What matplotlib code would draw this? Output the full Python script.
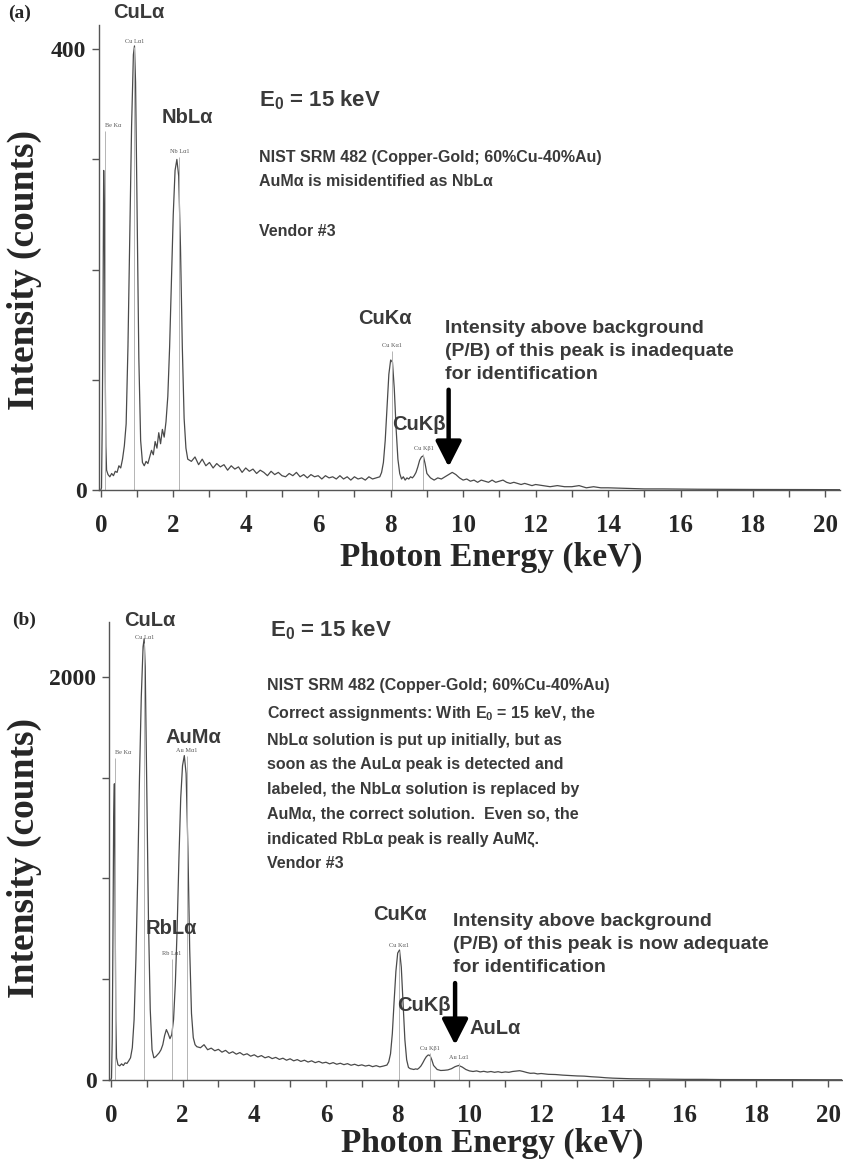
import matplotlib.pyplot as plt

# fontes: serif negrito para eixos, sans negrito para anotacoes
plt.rcParams['font.family'] = 'Liberation Serif'
plt.rcParams['font.weight'] = 'bold'
plt.rcParams['mathtext.fontset'] = 'custom'
plt.rcParams['mathtext.rm'] = 'Liberation Sans:bold'
plt.rcParams['mathtext.it'] = 'Liberation Sans:bold'
plt.rcParams['mathtext.bf'] = 'Liberation Sans:bold'

SANS = 'Liberation Sans'
INK = '#3a3a3a'
LINE = '#4a4a4a'

# energia dos canais (keV), comum aos dois espectros
energy_kev = [
    0.00, 0.02, 0.04, 0.06, 0.08, 0.10, 0.12, 0.14, 0.16, 0.20,
    0.25, 0.30, 0.35, 0.40, 0.45, 0.50, 0.55, 0.60, 0.65, 0.70,
    0.75, 0.80, 0.85, 0.90, 0.93, 0.96, 1.00, 1.05, 1.10, 1.15,
    1.20, 1.25, 1.30, 1.35, 1.40, 1.45, 1.50, 1.55, 1.60, 1.65,
    1.70, 1.75, 1.80, 1.85, 1.90, 1.95, 2.00, 2.05, 2.10, 2.15,
    2.20, 2.25, 2.30, 2.35, 2.40,
    2.5, 2.6, 2.7, 2.8, 2.9, 3.0, 3.1, 3.2, 3.3, 3.4,
    3.5, 3.6, 3.7, 3.8, 3.9, 4.0, 4.1, 4.2, 4.3, 4.4,
    4.5, 4.6, 4.7, 4.8, 4.9, 5.0, 5.1, 5.2, 5.3, 5.4,
    5.5, 5.6, 5.7, 5.8, 5.9, 6.0, 6.1, 6.2, 6.3, 6.4,
    6.5, 6.6, 6.7, 6.8, 6.9, 7.0, 7.1, 7.2, 7.3, 7.4,
    7.5, 7.6, 7.7,
    7.75, 7.80, 7.85, 7.90, 7.95, 8.00, 8.05, 8.10, 8.15, 8.20,
    8.25, 8.30, 8.35, 8.40, 8.45, 8.50, 8.55, 8.60, 8.65, 8.70,
    8.75, 8.80, 8.85, 8.90, 8.95, 9.00,
    9.1, 9.2, 9.3, 9.4, 9.5, 9.6, 9.7, 9.8, 9.9, 10.0,
    10.1, 10.2, 10.3, 10.4, 10.5, 10.6, 10.7, 10.8, 10.9, 11.0,
    11.1, 11.2, 11.3, 11.4, 11.5, 11.6, 11.7, 11.8, 11.9, 12.0,
    12.2, 12.4, 12.6, 12.8, 13.0, 13.2, 13.4, 13.6, 13.8, 14.0,
    14.5, 15.0, 15.5, 16.0, 16.5, 17.0, 17.5, 18.0, 18.5, 19.0,
    19.5, 20.0, 20.4,
]

# (a) espectro com AuMa identificado como NbLa
counts_a = [
    0, 2, 60, 150, 290, 250, 120, 40, 18, 14,
    12, 15, 13, 17, 16, 22, 20, 28, 40, 60,
    130, 230, 330, 395, 403, 370, 260, 120, 45, 25,
    22, 26, 24, 30, 36, 32, 44, 38, 52, 42,
    55, 48, 62, 85, 130, 190, 250, 290, 300, 285,
    220, 130, 65, 38, 28,
    26, 30, 23, 28, 22, 25, 20, 24, 21, 23,
    18, 22, 19, 21, 16, 20, 17, 19, 15, 18,
    16, 13, 17, 14, 16, 13, 12, 15, 13, 16,
    12, 14, 11, 14, 12, 13, 10, 13, 11, 12,
    10, 13, 10, 12, 9, 12, 10, 11, 9, 12,
    10, 11, 12,
    16, 25, 45, 75, 105, 118, 116, 92, 56, 28,
    15, 10, 12, 9, 11, 10, 12, 11, 13, 16,
    21, 27, 30, 31, 24, 15,
    11, 9, 11, 10, 12, 14, 16, 14, 11, 9,
    10, 8, 9, 7, 9, 8, 7, 9, 7, 8,
    9, 7, 6, 7, 6, 5, 6, 5, 4, 5,
    4, 3, 4, 3, 3, 4, 2, 3, 2, 2,
    1.5, 1, 1, 0.8, 0.7, 0.6, 0.6, 0.5, 0.5, 0.4,
    0.4, 0.3, 0.3,
]

# (b) espectro com atribuicoes corretas
counts_b = [
    0, 10, 200, 700, 1300, 1470, 900, 300, 110, 75,
    70, 80, 72, 85, 82, 95, 110, 160, 300, 600,
    1000, 1500, 1900, 2150, 2190, 2050, 1500, 800, 350, 150,
    110, 115, 125, 135, 150, 175, 220, 250, 230, 205,
    225, 300, 480, 750, 1100, 1400, 1560, 1610, 1520, 1150,
    650, 330, 210, 175, 165,
    160, 175, 150, 158, 145, 152, 138, 147, 132, 140,
    128, 136, 124, 130, 118, 125, 114, 121, 110, 116,
    106, 112, 102, 108, 98, 105, 95, 101, 92, 98,
    89, 95, 86, 92, 84, 88, 80, 86, 78, 83,
    76, 81, 73, 78, 71, 75, 69, 73, 66, 71,
    65, 69, 74,
    90, 130, 230, 390, 540, 630, 645, 560, 380, 200,
    100, 62, 56, 54, 52, 55, 53, 60, 70, 85,
    102, 116, 124, 122, 100, 72,
    52, 47, 48, 50, 56, 66, 72, 64, 52, 45,
    42, 45, 40, 43, 39, 42, 38, 41, 37, 40,
    38, 42, 44, 46, 42, 37, 33, 34, 30, 32,
    28, 27, 24, 22, 20, 19, 16, 14, 11, 9,
    6, 5, 4, 3, 3, 2, 2, 2, 1.5, 1.5,
    1, 1, 1,
]

# marcadores de linhas do software (nome, energia, topo da linha)
marks_a = ['Be Kα', 'Cu Lα1', 'Nb Lα1', 'Cu Kα1', 'Cu Kβ1']
marks_a_kev = [0.108, 0.93, 2.166, 8.04, 8.905]
marks_a_top = [326, 402, 302, 126, 33]

marks_b = ['Be Kα', 'Cu Lα1', 'Rb Lα1', 'Au Mα1', 'Cu Kα1', 'Cu Kβ1', 'Au Lα1']
marks_b_kev = [0.108, 0.93, 1.694, 2.123, 8.04, 8.905, 9.713]
marks_b_top = [1600, 2170, 600, 1610, 640, 132, 86]

# rotulos grandes dos picos
peaks_a = ['CuLα', 'NbLα', 'CuKα', 'CuKβ']
peaks_a_x = [1.05, 2.4, 7.85, 8.78]
peaks_a_y = [433, 338, 156, 59]

peaks_b = ['CuLα', 'AuMα', 'RbLα', 'CuKα', 'CuKβ', 'AuLα']
peaks_b_x = [1.1, 2.3, 1.69, 8.06, 8.73, 10.72]
peaks_b_y = [2283, 1702, 754, 819, 372, 253]

info_a = ("NIST SRM 482 (Copper-Gold; 60%Cu-40%Au)\n"
          "AuMα is misidentified as NbLα\n\nVendor #3")
info_b = ("NIST SRM 482 (Copper-Gold; 60%Cu-40%Au)\n"
          "Correct assignments: With E$_0$ = 15 keV, the\n"
          "NbLα solution is put up initially, but as\n"
          "soon as the AuLα peak is detected and\n"
          "labeled, the NbLα solution is replaced by\n"
          "AuMα, the correct solution.  Even so, the\n"
          "indicated RbLα peak is really AuMζ.\n"
          "Vendor #3")
note_a = ("Intensity above background\n"
          "(P/B) of this peak is inadequate\n"
          "for identification")
note_b = ("Intensity above background\n"
          "(P/B) of this peak is now adequate\n"
          "for identification")


def draw_panel(ax, counts, ymax, yticks, marks, marks_kev, marks_top,
               peaks, peaks_x, peaks_y):
    ax.plot(energy_kev, counts, color=LINE, lw=0.9)
    ax.vlines(marks_kev, 0, marks_top, colors='#b4b4b4', lw=0.7)
    for name, e, top in zip(marks, marks_kev, marks_top):
        ha = 'left' if e < 0.5 else 'center'
        ax.text(e, top + ymax * 0.006, name, fontsize=4.5, ha=ha, va='bottom',
                color='#555555', fontweight='normal')
    for name, x, y in zip(peaks, peaks_x, peaks_y):
        ax.text(x, y, name, family=SANS, fontsize=14.5, color=INK,
                ha='center', va='center')

    ax.set_xlim(-0.05, 20.4)
    ax.set_ylim(0, ymax)
    ax.set_xticks(range(0, 21))
    ax.set_xticklabels([str(i) if i % 2 == 0 else '' for i in range(21)])
    ax.set_yticks(yticks)
    ax.set_yticklabels(['0', '', '', '', str(yticks[-1])])
    ax.tick_params(axis='x', length=5, width=1, color='#555555', pad=12,
                   labelsize=18, labelcolor='#262626')
    ax.tick_params(axis='y', length=5, width=1, color='#555555', pad=4,
                   labelsize=17, labelcolor='#262626')
    for s in ['top', 'right']:
        ax.spines[s].set_visible(False)
    for s in ['left', 'bottom']:
        ax.spines[s].set_color('#555555')
        ax.spines[s].set_linewidth(1)
    ax.set_xlabel('Photon Energy (keV)', fontsize=24, fontweight='bold',
                  color='#262626')
    ax.set_ylabel('Intensity (counts)', fontsize=27, fontweight='bold',
                  color='#262626')
    ax.xaxis.label.set_va('center')
    ax.yaxis.label.set_va('center')


fig = plt.figure(figsize=(8.43, 11.62), dpi=100)
ax_a = fig.add_axes([0.1174, 0.5783, 0.8790, 0.4002])
ax_b = fig.add_axes([0.1293, 0.0706, 0.8700, 0.3941])

draw_panel(ax_a, counts_a, 422, [0, 100, 200, 300, 400],
           marks_a, marks_a_kev, marks_a_top, peaks_a, peaks_a_x, peaks_a_y)
draw_panel(ax_b, counts_b, 2273, [0, 500, 1000, 1500, 2000],
           marks_b, marks_b_kev, marks_b_top, peaks_b, peaks_b_x, peaks_b_y)

ax_a.xaxis.set_label_coords(0.53, -0.144)
ax_a.yaxis.set_label_coords(-0.10, 0.473)
ax_b.xaxis.set_label_coords(0.522, -0.138)
ax_b.yaxis.set_label_coords(-0.115, 0.485)

# textos de anotacao
ax_a.text(4.36, 354, 'E$_0$ = 15 keV', family=SANS, fontsize=16, color=INK,
          va='center')
ax_a.text(4.36, 309, info_a, family=SANS, fontsize=11.5, color=INK,
          va='top', linespacing=1.82)
ax_a.text(9.5, 154, note_a, family=SANS, fontsize=14, color=INK,
          va='top', linespacing=1.45)

ax_b.text(4.43, 2233, 'E$_0$ = 15 keV', family=SANS, fontsize=16, color=INK,
          va='center')
ax_b.text(4.35, 1995, info_b, family=SANS, fontsize=11.5, color=INK,
          va='top', linespacing=1.8)
ax_b.text(9.53, 829, note_b, family=SANS, fontsize=14, color=INK,
          va='top', linespacing=1.45)

# setas pretas apontando para o AuLa
arrow = dict(arrowstyle='-|>,head_length=0.55,head_width=0.28', lw=3.2,
             color='black', mutation_scale=28, shrinkA=0, shrinkB=0)
ax_a.annotate('', xy=(9.6, 21), xytext=(9.6, 91), arrowprops=arrow)
ax_b.annotate('', xy=(9.6, 174), xytext=(9.6, 481), arrowprops=arrow)

fig.text(8 / 843, 1 - 13 / 1162, '(a)', fontsize=14, va='center', color='#262626')
fig.text(12 / 843, 1 - 620 / 1162, '(b)', fontsize=14, va='center', color='#262626')

fig.savefig('out.png', dpi=100)
